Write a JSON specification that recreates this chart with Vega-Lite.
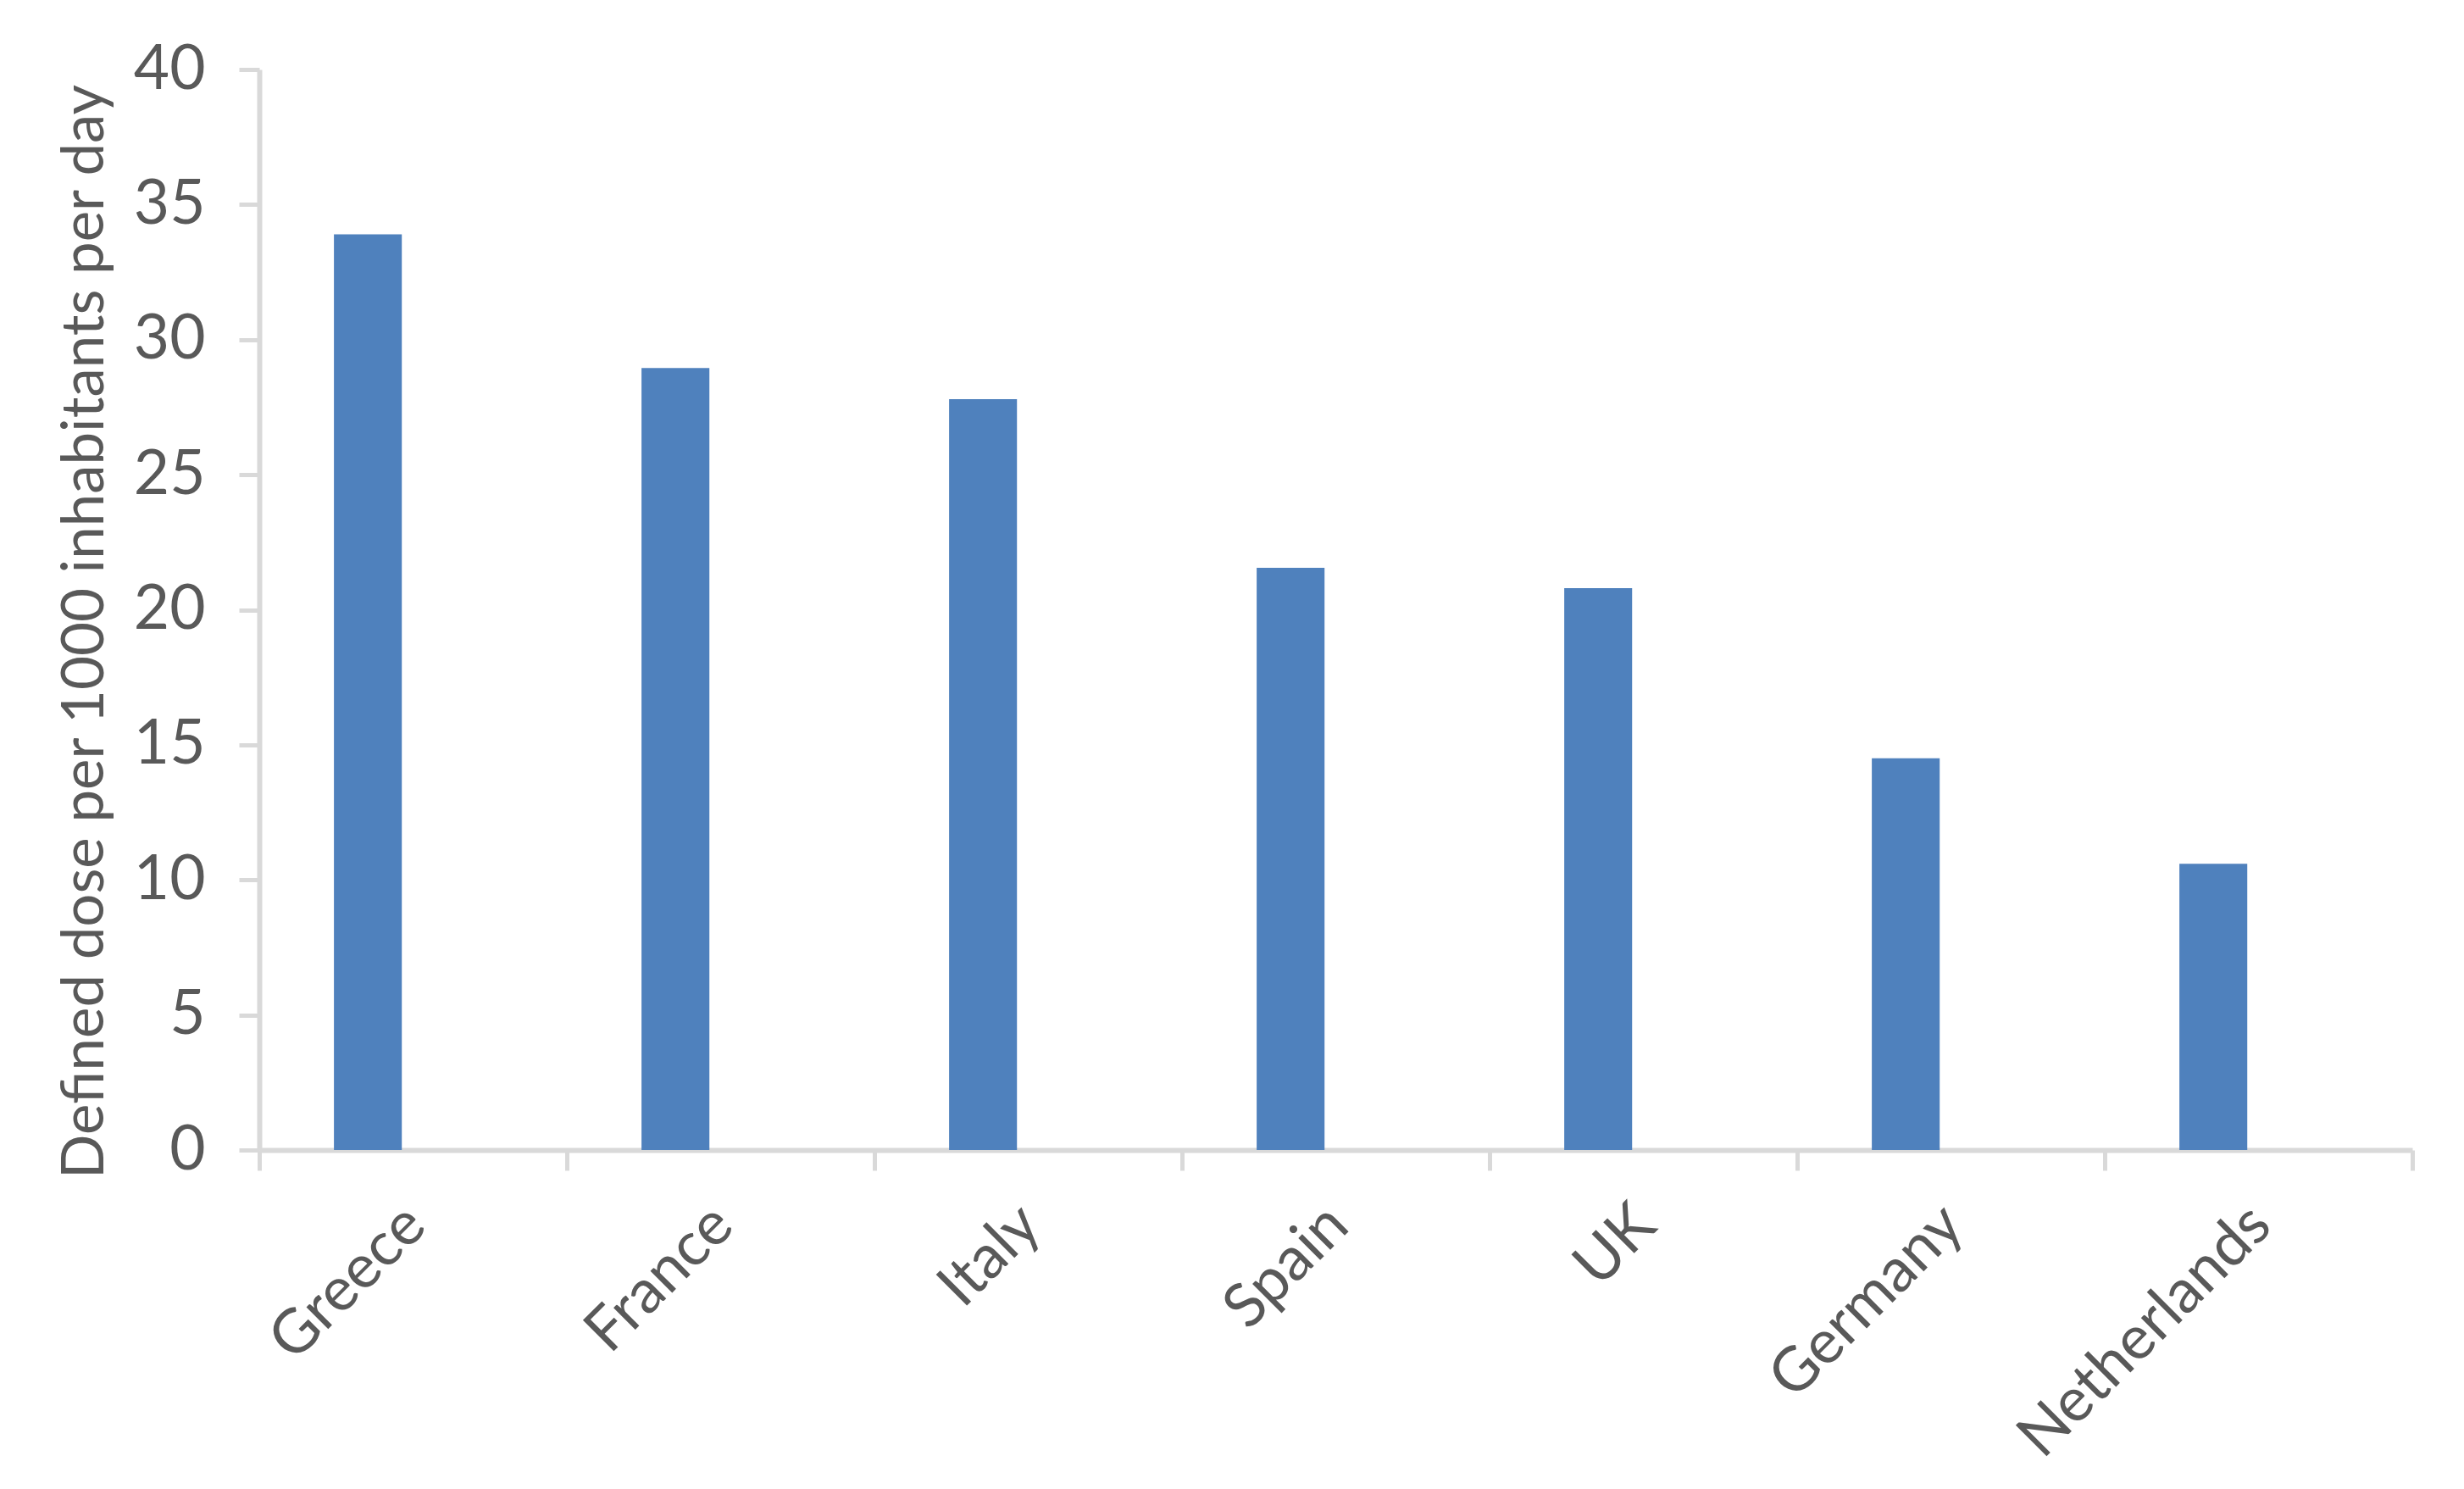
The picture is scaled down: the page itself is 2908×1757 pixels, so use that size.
{
  "$schema": "https://vega.github.io/schema/vega-lite/v6.json",
  "autosize": {"type": "none"},
  "padding": {"left": 306, "top": 82, "right": 61, "bottom": 400},
  "width": 2541,
  "height": 1275,
  "background": "white",
  "config": {"view": {"stroke": null}, "font": "Lato"},
  "data": {
    "values": [
      {"country": "Greece", "value": 33.9, "series": "DDD"},
      {"country": "France", "value": 28.95, "series": "DDD"},
      {"country": "Italy", "value": 27.8, "series": "DDD"},
      {"country": "Spain", "value": 21.55, "series": "DDD"},
      {"country": "UK", "value": 20.8, "series": "DDD"},
      {"country": "Germany", "value": 14.5, "series": "DDD"},
      {"country": "Netherlands", "value": 10.6, "series": "DDD"}
    ]
  },
  "mark": {"type": "bar", "color": "#4f81bd"},
  "encoding": {
    "x": {
      "field": "country",
      "type": "nominal",
      "sort": null,
      "scale": {"paddingInner": 0, "paddingOuter": 0},
      "axis": {
        "title": null,
        "bandPosition": 1,
        "tickExtra": true,
        "domainColor": "#d9d9d9",
        "domainWidth": 6,
        "tickColor": "#d9d9d9",
        "tickWidth": 5,
        "tickSize": 24,
        "labelAngle": -45,
        "labelAlign": "right",
        "labelBaseline": "top",
        "labelPadding": 28,
        "labelOffset": -22,
        "labelFontSize": 72,
        "labelColor": "#595959",
        "labelLimit": 0,
        "labelOverlap": false,
        "labelBound": false
      }
    },
    "xOffset": {
      "field": "series",
      "type": "nominal",
      "scale": {"domain": ["DDD", "other"], "paddingInner": 0.249, "paddingOuter": 0.826}
    },
    "y": {
      "field": "value",
      "type": "quantitative",
      "scale": {"domain": [0, 40], "nice": false},
      "axis": {
        "title": "Defined dose per 1000 inhabitants per day",
        "values": [0, 5, 10, 15, 20, 25, 30, 35, 40],
        "grid": false,
        "domainColor": "#d9d9d9",
        "domainWidth": 6,
        "tickColor": "#d9d9d9",
        "tickWidth": 5,
        "tickSize": 24,
        "labelFontSize": 73,
        "labelColor": "#595959",
        "labelPadding": 40,
        "titleFontSize": 69,
        "titleFontWeight": "normal",
        "titleColor": "#595959",
        "titlePadding": 22,
        "titleY": 663
      }
    }
  }
}
